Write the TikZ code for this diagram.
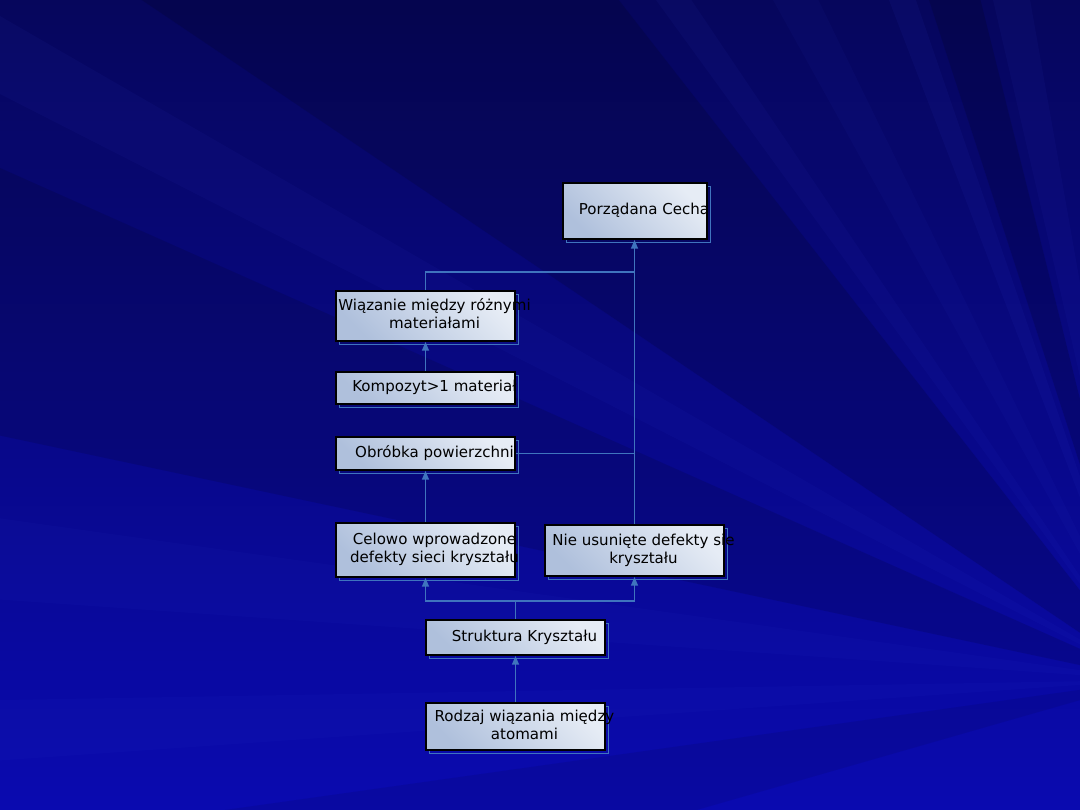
\documentclass[tikz,border=0pt]{standalone}
\usepackage{fontspec}
\setmainfont{DejaVu Sans}
\usetikzlibrary{arrows.meta,positioning,calc,shadows}
\definecolor{bgdeep}{HTML}{06065C}
\definecolor{bgblue}{HTML}{0A0AB0}
\definecolor{rayLight}{HTML}{3A4AE0}
\definecolor{cellLo}{HTML}{AFC0DC}
\definecolor{cellHi}{HTML}{E6ECF5}
\definecolor{linkblue}{HTML}{3F74BE}
\newcommand\cellText[1]{\hspace*{0.45cm}\makebox[0pt]{\begin{tabular}{@{}c@{}}#1\end{tabular}}}
\tikzset{
  cellbox/.style={draw=black, line width=1.2pt, left color=cellLo, right color=cellHi,
    shading angle=135, minimum width=4.475cm, inner sep=0pt,
    font=\fontsize{10.7}{12.8}\selectfont,
    general shadow={shadow xshift=0.09cm, shadow yshift=-0.09cm, draw=linkblue, line width=0.8pt}},
  link/.style={draw=linkblue, line width=1.3pt},
  linkarr/.style={link, -{Triangle[length=2.2mm, width=1.7mm]}}
}

\begin{document}
\begin{tikzpicture}[x=0.025cm,y=0.025cm]
  \useasboundingbox (0,0) rectangle (1080,810);
  % background with rays
  \shade[top color=bgdeep, bottom color=bgblue] (0,0) rectangle (1080,810);
  \begin{scope}
    \clip (0,0) rectangle (1080,810);
    \foreach \a/\b/\o in {104/108/.15, 128/146/.14, 156/168/.12, 188/196/.08}
      \fill[black, opacity=\o] (1150,130) -- ++(\a:1600) -- ($(1150,130)+(\b:1600)$) -- cycle;
    \foreach \a/\b/\o in {100/103/.06, 109/111/.07, 116/119/.05, 124/126/.06, 150/153/.06, 172/176/.05, 181/184/.05}
      \fill[rayLight, opacity=\o] (1150,130) -- ++(\a:1600) -- ($(1150,130)+(\b:1600)$) -- cycle;
  \end{scope}

  % boxes
  \node[cellbox, minimum width=3.6cm, minimum height=1.4cm] (cecha) at (635,599) {\cellText{Porządana Cecha}};
  \node[cellbox, minimum height=1.25cm] (wiaz) at (425.5,494) {\cellText{Wiązanie między różnymi\\materiałami}};
  \node[cellbox, minimum height=0.8cm] (komp) at (425.5,422) {\cellText{Kompozyt>1 materiał}};
  \node[cellbox, minimum height=0.825cm] (obr) at (425.5,356.5) {\cellText{Obróbka powierzchni}};
  \node[cellbox, minimum height=1.35cm] (celowo) at (425.5,260) {\cellText{Celowo wprowadzone\\defekty sieci kryształu}};
  \node[cellbox, minimum height=1.275cm] (nie) at (634.5,259.5) {\cellText{Nie usunięte defekty sie\\kryształu}};
  \node[cellbox, minimum height=0.875cm] (strukt) at (515.5,172.5) {\cellText{Struktura Kryształu}};
  \node[cellbox, minimum height=1.175cm] (rodzaj) at (515.5,83.5) {\cellText{Rodzaj wiązania między\\atomami}};

  % connectors
  \coordinate (join) at (634.5,538);
  \coordinate (split) at (515.5,209);
  \draw[linkarr] (nie.north) -- (nie.north |- cecha.south);
  \draw[link] (wiaz.north) |- (join);
  \draw[link] (obr.east) -- (obr.east -| nie.north);
  \draw[linkarr] (komp.north) -- (wiaz.south);
  \draw[linkarr] (celowo.north) -- (obr.south);
  \draw[link] (strukt.north) -- (split);
  \draw[linkarr] (split) -| (celowo.south);
  \draw[linkarr] (split) -| (nie.south);
  \draw[linkarr] (rodzaj.north) -- (strukt.south);
\end{tikzpicture}
\end{document}
